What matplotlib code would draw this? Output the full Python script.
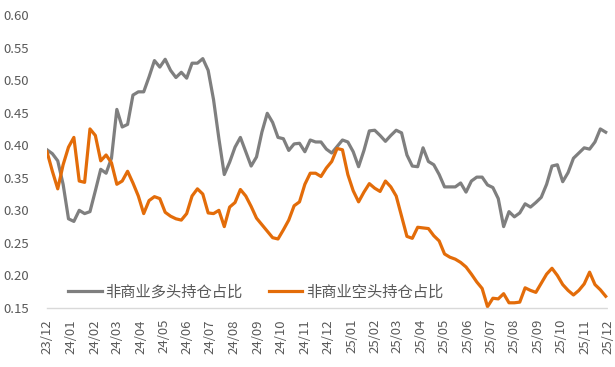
import matplotlib
matplotlib.use("Agg")
import matplotlib.pyplot as plt
import pandas as pd

plt.rcParams["font.family"] = ["Noto Sans CJK SC", "DejaVu Sans"]

# weekly CFTC non-commercial position shares, first week 2023-12-05
start_week = "2023-12-05"
long_share = [
    0.393, 0.387, 0.376, 0.340, 0.287, 0.283, 0.300, 0.295, 0.298, 0.330,
    0.363, 0.357, 0.380, 0.455, 0.428, 0.432, 0.477, 0.482, 0.482, 0.505,
    0.530, 0.520, 0.532, 0.515, 0.504, 0.512, 0.503, 0.526, 0.526, 0.533,
    0.515, 0.470, 0.410, 0.355, 0.374, 0.397, 0.412, 0.390, 0.368, 0.382,
    0.420, 0.449, 0.435, 0.412, 0.410, 0.392, 0.402, 0.403, 0.390, 0.408,
    0.405, 0.405, 0.394, 0.388, 0.398, 0.408, 0.405, 0.390, 0.367, 0.392,
    0.422, 0.423, 0.415, 0.406, 0.415, 0.423, 0.419, 0.385, 0.368, 0.367,
    0.396, 0.375, 0.370, 0.355, 0.336, 0.336, 0.336, 0.342, 0.328, 0.345,
    0.351, 0.351, 0.339, 0.335, 0.318, 0.275, 0.298, 0.290, 0.296, 0.310,
    0.305, 0.312, 0.320, 0.340, 0.368, 0.370, 0.344, 0.358, 0.380, 0.388,
    0.396, 0.394, 0.405, 0.425, 0.420,
]
short_share = [
    0.390, 0.360, 0.333, 0.370, 0.397, 0.412, 0.345, 0.343, 0.425, 0.415,
    0.376, 0.385, 0.373, 0.340, 0.345, 0.360, 0.342, 0.322, 0.295, 0.315,
    0.321, 0.318, 0.297, 0.291, 0.287, 0.285, 0.295, 0.322, 0.333, 0.325,
    0.296, 0.295, 0.300, 0.275, 0.305, 0.312, 0.332, 0.322, 0.306, 0.288,
    0.278, 0.268, 0.258, 0.256, 0.270, 0.285, 0.307, 0.313, 0.340, 0.357,
    0.357, 0.352, 0.365, 0.375, 0.395, 0.393, 0.355, 0.330, 0.313, 0.328,
    0.341, 0.334, 0.329, 0.345, 0.336, 0.322, 0.291, 0.260, 0.257, 0.274,
    0.273, 0.272, 0.261, 0.253, 0.233, 0.228, 0.225, 0.220, 0.213, 0.202,
    0.190, 0.180, 0.152, 0.165, 0.164, 0.172, 0.158, 0.158, 0.159, 0.181,
    0.177, 0.174, 0.188, 0.202, 0.211, 0.200, 0.186, 0.177, 0.170, 0.177,
    0.187, 0.205, 0.186, 0.178, 0.168,
]
month_labels = [
    "23/12", "24/01", "24/02", "24/03", "24/04", "24/05", "24/06", "24/07",
    "24/08", "24/09", "24/10", "24/11", "24/12", "25/01", "25/02", "25/03",
    "25/04", "25/05", "25/06", "25/07", "25/08", "25/09", "25/10", "25/11",
    "25/12",
]
y_ticks = [0.15, 0.20, 0.25, 0.30, 0.35, 0.40, 0.45, 0.50, 0.55, 0.60]
long_label = "非商业多头持仓占比"
short_label = "非商业空头持仓占比"

weeks = pd.date_range(start_week, periods=len(long_share), freq="7D")
months = pd.date_range(start_week, periods=len(month_labels), freq=pd.DateOffset(months=1))

text_grey = "#595959"
fig = plt.figure(figsize=(6.15, 3.67), dpi=100)
ax = fig.add_axes([47 / 615, 1 - 308 / 367, (608 - 47) / 615, (308 - 15) / 367])

ax.plot(weeks, long_share, color="#7f7f7f", lw=2.3, label=long_label, solid_joinstyle="round")
ax.plot(weeks, short_share, color="#e36c09", lw=2.3, label=short_label, solid_joinstyle="round")

ax.set_xlim(weeks[0], months[-1])
ax.set_ylim(0.15, 0.60)
ax.set_yticks(y_ticks)
ax.set_yticklabels([f"{v:.2f}" for v in y_ticks])
ax.set_xticks(months)
ax.set_xticklabels(month_labels, rotation=90)

for side in ["top", "right", "left"]:
    ax.spines[side].set_visible(False)
ax.spines["bottom"].set_color("#d9d9d9")
ax.spines["bottom"].set_linestyle((0, (1, 1)))
ax.spines["bottom"].set_linewidth(1.0)

ax.tick_params(axis="y", length=0, pad=13, labelsize=9.5, labelcolor=text_grey)
ax.tick_params(axis="x", length=0, pad=8, labelsize=9.5, labelcolor=text_grey)

ax.legend(
    loc="center left",
    bbox_to_anchor=(68 / 615, 1 - 292 / 367),
    bbox_transform=fig.transFigure,
    ncol=2,
    frameon=False,
    fontsize=11,
    labelcolor=text_grey,
    handlelength=2.2,
    handletextpad=0.25,
    columnspacing=1.7,
    borderpad=0,
    borderaxespad=0,
)

fig.savefig("out.png", dpi=100)
